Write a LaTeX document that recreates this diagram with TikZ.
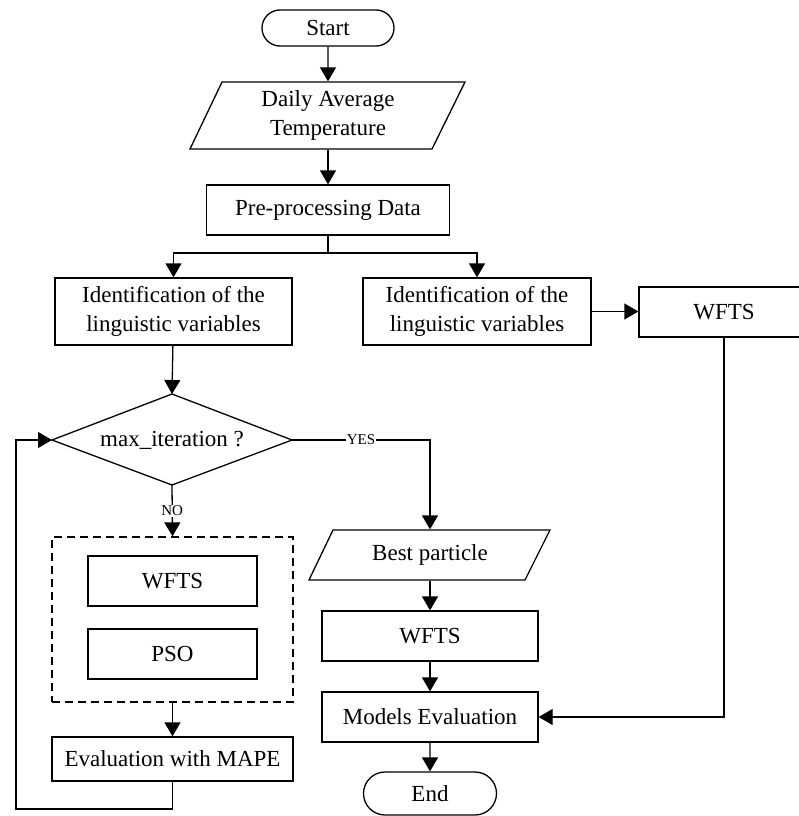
\documentclass[tikz,border=0pt]{standalone}
\usepackage{fontspec}
\setmainfont{Liberation Serif}
\usetikzlibrary{arrows.meta,shapes.misc}
\begin{document}
\begin{tikzpicture}[x=1pt,y=-1pt,
  line width=1.3pt,
  >={Triangle[length=14pt,width=16pt]},
  box/.style={draw,rectangle,inner sep=0pt,font=\fontsize{23}{29}\selectfont,align=center},
  term/.style={draw,rounded rectangle,inner sep=0pt,font=\fontsize{23}{29}\selectfont},
  txt/.style={inner sep=0pt,font=\fontsize{23}{29}\selectfont,align=center},
  lab/.style={fill=white,inner sep=1pt,font=\fontsize{15}{18}\selectfont},
  grpbox/.style={draw,dashed,dash pattern=on 8pt off 5pt,inner sep=0pt}
]
\useasboundingbox (0,0) rectangle (798,816);

% nodes
\node[term, minimum width=132pt, minimum height=36pt] (start) at (328,28) {Start};
\node[txt, minimum width=242pt, minimum height=67pt] (dat) at (328,115.5) {Daily Average\\Temperature};
\draw (222,82) -- (465,82) -- (432,149) -- (190,149) -- cycle;
\node[box, minimum width=243pt, minimum height=50pt] (pre) at (328,210) {Pre-processing Data};
\node[box, minimum width=237pt, minimum height=67pt] (id1) at (173.5,311.5) {Identification of the\\linguistic variables};
\node[box, minimum width=228pt, minimum height=67pt] (id2) at (477,311.5) {Identification of the\\linguistic variables};
\node[box, minimum width=170pt, minimum height=50pt] (w1) at (724,312) {WFTS};

\coordinate (dt) at (172,394);
\coordinate (dl) at (52,440);
\coordinate (dr) at (292,440);
\coordinate (db) at (172,485);
\draw (dt) -- (dr) -- (db) -- (dl) -- cycle;
\node[txt] (dia) at (172,440) {max\_iteration ?};

\node[grpbox, minimum width=241pt, minimum height=165pt] (grp) at (172.5,619.5) {};
\node[box, minimum width=169pt, minimum height=50pt] (w2) at (172.5,581) {WFTS};
\node[box, minimum width=169pt, minimum height=50pt] (pso) at (172.5,654) {PSO};
\node[box, minimum width=241pt, minimum height=44pt] (mape) at (172.5,759) {Evaluation with MAPE};

\node[txt, minimum width=217pt, minimum height=50pt] (best) at (430,555) {Best particle};
\draw (333,530) -- (550,530) -- (525,580) -- (309,580) -- cycle;
\node[box, minimum width=216pt, minimum height=50pt] (w3) at (430,636) {WFTS};
\node[box, minimum width=216pt, minimum height=50pt] (eval) at (430,717) {Models Evaluation};
\node[term, minimum width=133pt, minimum height=43pt] (end) at (430,793.5) {End};

% connectors
\coordinate (br) at (328,253);
\coordinate (lb) at (16,809);
\draw[->] (start) -- (dat);
\draw[->] (dat) -- (pre);
\draw (pre.south) -- (br);
\draw[->] (br) -| (id1.north);
\draw[->] (br) -| (id2.north);
\draw[->] (id2.east) -- (id2.east -| w1.west);
\draw[->] (w1.south) |- (eval.east);
\draw[->] (id1) -- (dt);
\draw[->] (dr) -| node[lab,pos=0.25]{YES} (best.north);
\draw[->] (db) -- node[lab]{NO} (grp.north);
\draw[->] (grp) -- (mape);
\draw[->] (mape.south) |- (lb) |- (dl);
\draw[->] (best) -- (w3);
\draw[->] (w3) -- (eval);
\draw[->] (eval) -- (end);
\end{tikzpicture}
\end{document}
